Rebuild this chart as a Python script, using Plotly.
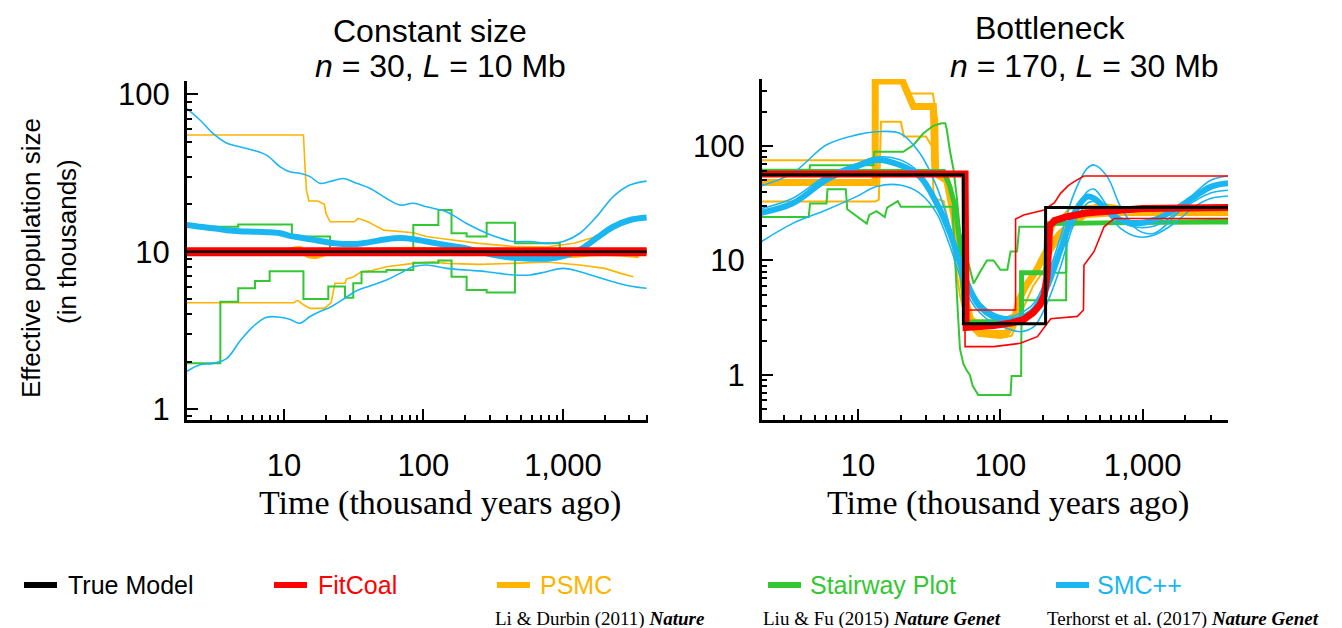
import plotly.graph_objects as go

W, H = 1342, 628
OFF = 8  # the page body adds an 8 px margin around the figure

# ---------------- colours ----------------
C_TRUE = "#000000"
C_FIT = "#ff0000"
C_PSMC = "#ffb400"
C_SW = "#33c733"
C_SMC = "#1ab6f2"

# ================= Constant size panel =================
L_GRID = [2.0, 2.5, 3.1, 3.9, 4.8, 6.0, 7.5, 9.4, 11.0, 13.0, 15.4, 18.1, 21.4, 26.6, 33.2, 41.3,
          54.4, 67.9, 84.6, 105, 147, 204, 284, 353, 440, 580, 764, 1005, 1324, 1743, 2296, 3023, 3981]
L_SMC_MED = [14.8, 14.4, 14.1, 13.7, 13.5, 13.4, 13.3, 13.1, 12.6, 12.3, 12.0, 11.7, 11.4, 11.2, 11.2, 11.5,
             12.0, 12.2, 12.0, 11.6, 11.0, 10.5, 9.76, 9.38, 9.16, 9.03, 9.03, 9.38, 10.3, 12.2, 14.4, 15.9, 16.5]
L_SMC_HI = [81.5, 68.7, 56.5, 48.9, 46.5, 44.2, 41.1, 34.6, 32.2, 31.5, 30.0, 27.2, 27.9, 29.2, 27.2, 25.3,
            21.8, 19.8, 20.3, 19.3, 17.9, 15.1, 13.1, 12.2, 11.6, 11.6, 11.3, 11.6, 13.1, 16.7, 22.4, 26.5, 28.1]
L_SMC_LO = [1.73, 1.91, 1.95, 2.10, 2.68, 3.34, 3.83, 3.83, 3.72, 3.51, 3.87, 4.16, 4.43, 4.98, 5.65, 6.05,
            6.61, 7.28, 8.03, 8.23, 7.83, 7.64, 7.46, 7.28, 7.11, 7.11, 7.46, 7.83, 7.46, 6.93, 6.44, 6.05, 5.85]

L_PSMC_HI_T = [2.0, 13.8, 14.2, 14.5, 15.1, 17.5, 19.5, 20.0, 21.4, 32, 34, 40, 44, 52, 85, 105, 147, 250,
               440, 764, 1200, 1743, 2700, 3300]
L_PSMC_HI_N = [55.2, 55.2, 33, 24.6, 21.0, 21.0, 20.0, 17.5, 15.5, 15.5, 16.3, 15.5, 14.8, 13.7, 13.2, 12.5,
               12.0, 11.3, 10.8, 10.7, 11.3, 12.5, 14.9, 16.3]
L_PSMC_LO_T = [2.0, 11.8, 12.5, 13.8, 15.4, 19.5, 21.8, 23.2, 27.4, 28.0, 31.4, 36, 42.5, 54.4, 84.6, 117,
               147, 250, 440, 764, 1324, 2000, 2600, 3200]
L_PSMC_LO_N = [4.74, 4.74, 4.9, 4.6, 4.36, 4.36, 4.74, 6.3, 6.3, 6.7, 6.9, 7.46, 7.6, 8.03, 8.43, 8.6,
               8.43, 8.3, 8.43, 8.6, 8.23, 7.83, 7.28, 6.93]
L_PSMC_MED_T = [2.0, 10, 13, 14, 15, 17, 20, 40, 85, 150, 300, 600, 1000, 2000, 3500]
L_PSMC_MED_N = [9.9, 10, 10.4, 9.9, 9.5, 9.4, 9.8, 10.1, 10.3, 10.1, 9.8, 9.6, 9.5, 9.8, 9.5]

L_SW_HI_T = [2.0, 4.7, 11.4, 21.4, 84.6, 128, 159, 204, 284, 453, 950, 3981]
L_SW_HI_N = [14.4, 14.9, 12.5, 10.2, 14.8, 18.4, 13.1, 12.5, 15.3, 11.3, 10.4, 10.4]
L_SW_LO_T = [2.0, 3.5, 4.7, 6.2, 7.9, 13.8, 20.8, 27.4, 31.4, 36, 54.4, 84.6, 128, 159, 204, 284, 453, 3981]
L_SW_LO_N = [1.95, 4.8, 5.85, 6.5, 7.5, 5.0, 6.0, 5.1, 6.3, 7.46, 7.64, 8.5, 8.8, 6.93, 5.7, 5.5, 10.2, 10.2]
L_SW_MED_T = [2.0, 4.0, 3981]
L_SW_MED_N = [9.7, 10.0, 10.0]

L_FIT_T = [2.0, 3981]
L_FIT_N = [10, 10]
L_TRUE_T = [2.0, 3981]
L_TRUE_N = [10, 10]

# ================= Bottleneck panel =================
R_GRID = [2.0, 3.48, 5.97, 9.73, 13.5, 19.7, 27.2, 35.7, 44.3, 52.2, 61.5, 72.3, 89.7, 111, 138, 172, 213,
          265, 330, 408, 456, 564, 700, 922, 1208, 1667, 2317, 3038, 3981]
R_SMC_MED = [25.8, 31.6, 50.5, 66.0, 75.5, 68.3, 54.0, 31.6, 17.3, 9.4, 5.5, 3.95, 3.23, 3.02, 3.12, 3.70,
             5.9, 12.4, 25.8, 36.1, 34.9, 27.6, 22.6, 21.1, 22.6, 27.6, 36.1, 44.2, 47.2]
R_SMC_HI = [44.2, 58.0, 102, 125, 133, 129, 86.3, 44.2, 19.8, 10.8, 5.9, 4.23, 3.46, 3.23, 3.46, 4.23,
            7.23, 16.1, 38.6, 63.8, 68.3, 54.0, 29.5, 18.5, 17.3, 24.2, 38.6, 50.5, 54.7]
R_SMC_MID = [28.0, 35.0, 55.0, 70.0, 80.0, 76.0, 58.0, 33.0, 16.0, 8.5, 5.0, 3.7, 3.1, 2.9, 3.0, 3.5,
             5.5, 11.5, 24.0, 40.0, 42.0, 30.0, 22.0, 19.5, 20.0, 25.0, 33.0, 39.0, 41.0]
R_SMC_LO = [14.1, 21.1, 27.6, 36.1, 44.2, 45.6, 38.6, 25.8, 13.3, 7.23, 4.52, 3.46, 2.82, 2.56, 2.39, 2.64,
            4.23, 8.83, 21.1, 31.6, 32.7, 25.8, 19.1, 16.1, 16.7, 21.1, 29.5, 34.9, 36.6]

R_PSMC_MED_T = [2.0, 13.2, 13.2, 20.5, 24.5, 33.8, 34.8, 42, 47, 52, 57, 63, 75, 110, 125, 135, 150, 180,
                210, 260, 320, 400, 500, 700, 1000, 3981]
R_PSMC_MED_N = [48, 48, 370, 370, 221, 221, 58, 50, 25, 10, 4.5, 2.8, 2.3, 2.3, 3.0, 4.5, 5.9, 8.3,
                12, 17, 21, 27, 30, 28, 27, 26.5]
R_PSMC_HI_T = [2.0, 13.0, 13.6, 20.8, 21.5, 33.5, 36.0, 36.5, 45, 50, 55, 60, 70, 100, 130, 150, 190, 240,
               300, 400, 600, 1000, 3981]
R_PSMC_HI_N = [75, 75, 375, 375, 288, 288, 170, 60, 45, 15, 5, 3.2, 3.0, 3.0, 3.5, 6, 9, 20,
               28, 30, 29, 28, 28]
R_PSMC_LO_T = [2.0, 13.2, 14.0, 14.5, 20.0, 21.0, 30.0, 33.0, 34.0, 40, 46, 52, 58, 70, 100, 120, 140, 170,
               200, 230, 290, 400, 700, 3981]
R_PSMC_LO_N = [32.7, 32.7, 34, 163, 163, 121, 121, 100, 35, 33, 14, 5, 2.8, 2.2, 2.1, 2.2, 3.5, 6,
               8, 12, 18, 24, 25, 25]

R_SW_MED_T = [2.0, 40, 44, 48, 52, 55, 57, 141, 141, 208, 212, 3981]
R_SW_MED_N = [60, 60, 45, 30, 14, 5, 2.9, 2.9, 7.8, 7.8, 21, 22]
R_SW_HI_T = [2.0, 4.56, 4.6, 12.8, 13.0, 20.8, 24.5, 28.8, 33.8, 38.7, 41, 42, 44.3, 46.9, 49.5, 52.2,
             55.1, 58.2, 64.9, 72.3, 80.5, 89.7, 100, 112, 118, 131, 136, 208, 208, 290, 292, 3981]
R_SW_HI_N = [62, 62, 68, 68, 89, 89, 102, 129, 150, 158, 158, 140, 90, 62, 35, 17.3,
             14, 10.5, 6.3, 8, 10, 10, 8.3, 8.3, 12, 12, 19.7, 19.7, 7.8, 7.8, 21, 21.5]
R_SW_LO_T = [2.0, 4.5, 4.6, 6.0, 6.1, 8.2, 8.4, 11.5, 12.0, 13.5, 15.4, 16.0, 19.0, 20.0, 46, 48, 50, 52,
             55, 58, 61, 64, 70, 118, 120, 140, 141, 290, 292, 3981]
R_SW_LO_N = [24, 24, 31.5, 31.5, 42, 42, 28, 21, 25, 27, 24, 29, 33, 29.5, 29.5, 12, 4, 1.7,
             1.25, 1.1, 1.0, 0.8, 0.67, 0.67, 0.98, 0.98, 4.5, 4.5, 21, 21]

R_FIT_MED_T = [2.0, 56.5, 57.5, 70, 90, 120, 146, 170, 190, 203, 212, 218, 222, 240, 290, 400, 600, 1000, 3981]
R_FIT_MED_N = [57, 57, 2.6, 2.62, 2.7, 2.85, 3.05, 3.5, 4.1, 4.9, 7, 12, 20, 22.3, 24, 26, 27.5, 28.5, 29]
R_FIT_HI_T = [2.0, 58, 58, 128, 128, 146, 203, 240, 265, 300, 330, 387, 3981]
R_FIT_HI_N = [59, 59, 3.7, 3.7, 23, 25, 27.6, 32, 38.6, 45, 48.8, 54.7, 54.7]
R_FIT_LO_T = [2.0, 56.5, 56.5, 90, 138, 182, 226, 348, 384, 387, 456, 536, 631, 3981]
R_FIT_LO_N = [55, 55, 1.77, 1.77, 1.89, 2.16, 3.1, 3.25, 3.7, 9.1, 12, 19.7, 23.3, 23.3]

R_TRUE_T = [2.0, 55, 208, 3981]
R_TRUE_N = [56, 2.8, 29, 29]

# ---------------- text ----------------
TITLES = ["Constant size", "Bottleneck"]
SUBTITLES = ["<i>n</i> = 30, <i>L</i> = 10 Mb", "<i>n</i> = 170, <i>L</i> = 30 Mb"]
X_TICKS = [10, 100, 1000]
X_TICKTEXT = ["10", "100", "1,000"]
Y_TICKS = [1, 10, 100]
Y_TICKTEXT = ["1", "10", "100"]
LEGEND_NAMES = ["True Model", "FitCoal", "PSMC", "Stairway Plot", "SMC++"]
LEGEND_COLORS = [C_TRUE, C_FIT, C_PSMC, C_SW, C_SMC]
CITATIONS = ["Li &amp; Durbin (2011) <b><i>Nature</i></b>",
             "Liu &amp; Fu (2015) <b><i>Nature Genet</i></b>",
             "Terhorst et al. (2017) <b><i>Nature Genet</i></b>"]

SANS = "Liberation Sans, Arial, sans-serif"
SERIF = "Liberation Serif, Times New Roman, serif"


def px(x):
    return (x - OFF) / W


def py(y):
    return 1 - (y - OFF) / H


fig = go.Figure()


def add(x, y, color, width, panel, shape="linear"):
    line = dict(color=color, width=width)
    if shape == "spline":
        line.update(shape="spline", smoothing=1.0)
    else:
        line.update(shape=shape)
    fig.add_trace(go.Scatter(
        x=x, y=y, mode="lines", line=line, showlegend=False, hoverinfo="skip",
        xaxis="x" if panel == 1 else "x2", yaxis="y" if panel == 1 else "y2"))


THIN = 1.6

# ---- left panel ----
add(L_PSMC_HI_T, L_PSMC_HI_N, C_PSMC, THIN, 1)
add(L_PSMC_LO_T, L_PSMC_LO_N, C_PSMC, THIN, 1)
add(L_PSMC_MED_T, L_PSMC_MED_N, C_PSMC, 6, 1, "spline")
add(L_SW_HI_T, L_SW_HI_N, C_SW, THIN + 0.4, 1, "hv")
add(L_SW_LO_T, L_SW_LO_N, C_SW, THIN + 0.4, 1, "hv")
add(L_SW_MED_T, L_SW_MED_N, C_SW, 4, 1, "hv")
add(L_GRID, L_SMC_HI, C_SMC, THIN, 1, "spline")
add(L_GRID, L_SMC_LO, C_SMC, THIN, 1, "spline")
add(L_GRID, L_SMC_MED, C_SMC, 6, 1, "spline")
add(L_FIT_T, L_FIT_N, C_FIT, 9, 1)
add(L_TRUE_T, L_TRUE_N, C_TRUE, 2.5, 1)

# ---- right panel ----
add(R_PSMC_HI_T, R_PSMC_HI_N, C_PSMC, THIN + 0.4, 2)
add(R_PSMC_LO_T, R_PSMC_LO_N, C_PSMC, THIN + 0.4, 2)
add(R_PSMC_MED_T, R_PSMC_MED_N, C_PSMC, 7, 2)
add(R_SW_HI_T, R_SW_HI_N, C_SW, THIN + 0.4, 2)
add(R_SW_LO_T, R_SW_LO_N, C_SW, THIN + 0.4, 2)
add(R_SW_MED_T, R_SW_MED_N, C_SW, 5, 2)
add(R_GRID, R_SMC_HI, C_SMC, THIN, 2, "spline")
add(R_GRID, R_SMC_MID, C_SMC, THIN, 2, "spline")
add(R_GRID, R_SMC_LO, C_SMC, THIN, 2, "spline")
add(R_GRID, R_SMC_MED, C_SMC, 6, 2, "spline")
add(R_FIT_HI_T, R_FIT_HI_N, C_FIT, THIN, 2)
add(R_FIT_LO_T, R_FIT_LO_N, C_FIT, THIN, 2)
add(R_FIT_MED_T, R_FIT_MED_N, C_FIT, 7, 2)
add(R_TRUE_T, R_TRUE_N, C_TRUE, 3, 2, "hv")

# ---------------- axes ----------------
x_minor = [m * 10 ** e for e in range(0, 4) for m in range(2, 10)]
y_minor = [round(m * 10 ** e, 3) for e in range(-1, 3) for m in range(2, 10)]


def xaxis(domain, rng):
    return dict(type="log", domain=domain, range=rng, showline=True, linewidth=3, linecolor="black",
                showgrid=False, zeroline=False, ticks="inside", ticklen=11, tickwidth=2, tickcolor="black",
                tickvals=X_TICKS, ticktext=X_TICKTEXT, ticklabelstandoff=16,
                tickfont=dict(family=SANS, size=31, color="black"),
                minor=dict(ticks="inside", ticklen=5, tickwidth=2, tickcolor="black", tickvals=x_minor,
                           showgrid=False),
                automargin=False, fixedrange=True)


def yaxis(domain, rng, anchor):
    return dict(type="log", domain=domain, range=rng, anchor=anchor, showline=True, linewidth=3,
                linecolor="black", showgrid=False, zeroline=False, ticks="inside", ticklen=11, tickwidth=2,
                tickcolor="black", tickvals=Y_TICKS, ticktext=Y_TICKTEXT, ticklabelstandoff=8,
                tickfont=dict(family=SANS, size=31, color="black"),
                minor=dict(ticks="inside", ticklen=5, tickwidth=2, tickcolor="black", tickvals=y_minor,
                           showgrid=False),
                automargin=False, fixedrange=True)


xa1 = xaxis([px(187), px(648)], [0.305, 3.61])
xa1["anchor"] = "y"
xa2 = xaxis([px(762), px(1228)], [0.325, 3.60])
xa2["anchor"] = "y2"
ya1 = yaxis([py(420), py(81)], [-0.07, 2.085], "x")
ya2 = yaxis([py(420), py(79)], [-0.393, 2.585], "x2")

annotations = []


def note(text, x, y, size, family=SANS, color="black", xanchor="center", angle=0):
    annotations.append(dict(text=text, x=px(x), y=py(y), xref="paper", yref="paper", showarrow=False,
                            xanchor=xanchor, yanchor="middle", textangle=angle,
                            font=dict(family=family, size=size, color=color)))


note(TITLES[0], 430, 31, 32)
note(SUBTITLES[0], 440, 66, 32)
note(TITLES[1], 1050, 28, 32)
note(SUBTITLES[1], 1084, 66, 32)
note("Effective population size", 31, 258, 26, angle=-90)
note("(in thousands)", 67, 242, 26, angle=-90)
note("Time (thousand years ago)", 440, 503, 34, family=SERIF)
note("Time (thousand years ago)", 1008, 503, 34, family=SERIF)

shapes = []
SWATCH_X = [21, 271, 494, 765, 1053]
TEXT_X = [66, 316, 538, 808, 1095]
for sx, tx, name, col in zip(SWATCH_X, TEXT_X, LEGEND_NAMES, LEGEND_COLORS):
    shapes.append(dict(type="line", xref="paper", yref="paper", x0=px(sx + 3), x1=px(sx + 36),
                       y0=py(585), y1=py(585), line=dict(color=col, width=6)))
    note(name, tx, 585, 25, color=col, xanchor="left")

CIT_X = [493, 761, 1045]
for cx, txt in zip(CIT_X, CITATIONS):
    note(txt, cx, 619, 19, family=SERIF, xanchor="left")

fig.update_layout(
    width=W, height=H, margin=dict(l=0, r=0, t=0, b=0),
    paper_bgcolor="white", plot_bgcolor="white",
    xaxis=xa1, yaxis=ya1, xaxis2=xa2, yaxis2=ya2,
    annotations=annotations, shapes=shapes, showlegend=False,
)

fig.write_html("out.html")
